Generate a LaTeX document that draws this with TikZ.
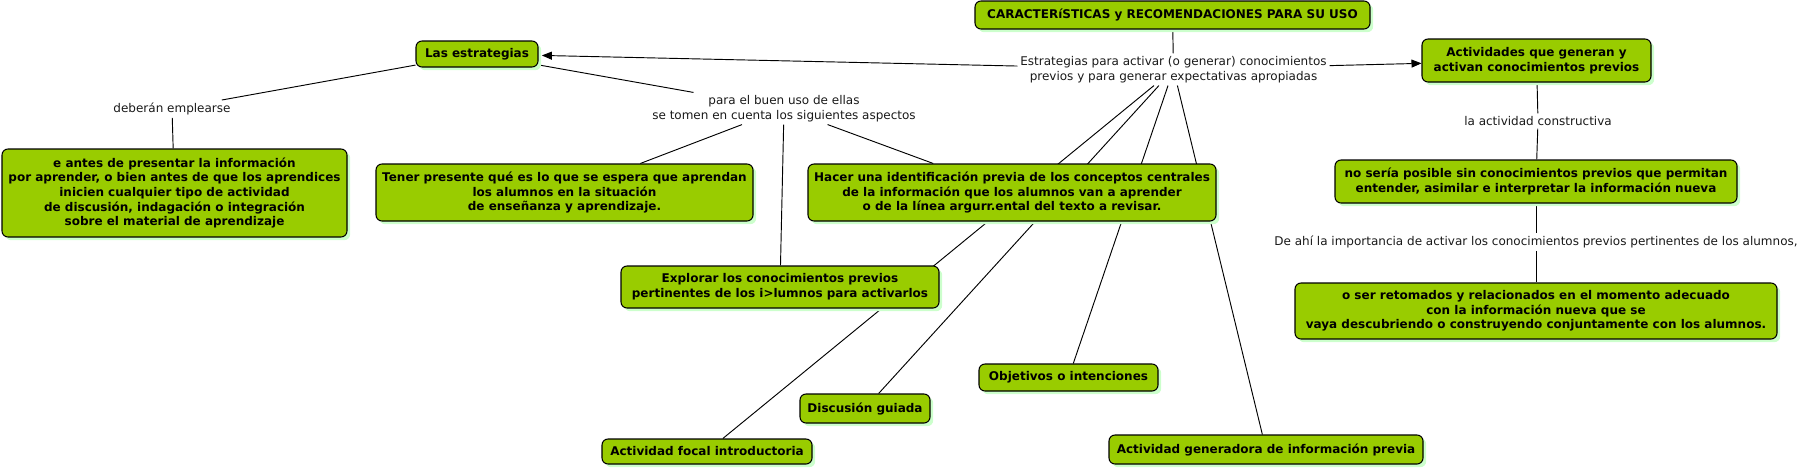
\documentclass[tikz,border=0pt]{standalone}
\usepackage{fontspec}
\setmainfont{DejaVu Sans}
\usetikzlibrary{shadows,arrows.meta}
\definecolor{boxgreen}{RGB}{153,204,0}
\definecolor{shadowgreen}{RGB}{204,255,204}
\pgfdeclarelayer{background}
\pgfsetlayers{background,main}
\begin{document}
\begin{tikzpicture}[x=0.75pt,y=-0.75pt,
  box/.style={draw=black, line width=0.8pt, fill=boxgreen, rounded corners=4.5pt,
    font=\bfseries\fontsize{9}{11}\selectfont, align=center, inner sep=0pt,
    drop shadow={shadow xshift=2.4pt, shadow yshift=-2.4pt, fill=shadowgreen, opacity=1}},
  lbl/.style={font=\fontsize{9}{11}\selectfont, align=center, inner sep=2pt, text=black!90},
  conn/.style={draw=black, line width=0.7pt},
  arr/.style={conn, -{Triangle[length=7.5pt,width=6pt]}}]
\useasboundingbox (0,0) rectangle (1805,471);
% boxes
\node[box, minimum width=91.5pt, minimum height=19.5pt] (las) at (477,54) {Las estrategias};
\node[box, minimum width=258.75pt, minimum height=66pt] (eantes) at (174.5,193) {e antes de presentar la información\\por aprender, o bien antes de que los aprendices\\inicien cualquier tipo de actividad\\de discusión, indagación o integración\\sobre el material de aprendizaje};
\node[box, minimum width=282.75pt, minimum height=42.75pt] (tener) at (564.5,192.5) {Tener presente qué es lo que se espera que aprendan\\los alumnos en la situación\\de enseñanza y aprendizaje.};
\node[box, minimum width=306pt, minimum height=42.75pt] (hacer) at (1012,192.5) {Hacer una identificación previa de los conceptos centrales\\de la información que los alumnos van a aprender\\o de la línea argurr.ental del texto a revisar.};
\node[box, minimum width=238.5pt, minimum height=31.5pt] (explorar) at (780,287) {Explorar los conocimientos previos\\pertinentes de los i>lumnos para activarlos};
\node[box, minimum width=157.5pt, minimum height=18.75pt] (focal) at (707,451.5) {Actividad focal introductoria};
\node[box, minimum width=97.5pt, minimum height=21.75pt] (discusion) at (865,408.5) {Discusión guiada};
\node[box, minimum width=134.25pt, minimum height=20.25pt] (objetivos) at (1068.5,377.5) {Objetivos o intenciones};
\node[box, minimum width=235.5pt, minimum height=21.75pt] (generadora) at (1266,449.5) {Actividad generadora de información previa};
\node[box, minimum width=296.25pt, minimum height=21pt] (carac) at (1172.5,15) {CARACTERíSTICAS y RECOMENDACIONES PARA SU USO};
\node[box, minimum width=171.75pt, minimum height=32.25pt] (activ) at (1536.5,60.5) {Actividades que generan y\\activan conocimientos previos};
\node[box, minimum width=301.5pt, minimum height=32.25pt] (noseria) at (1536,181.5) {no sería posible sin conocimientos previos que permitan\\entender, asimilar e interpretar la información nueva};
\node[box, minimum width=361.5pt, minimum height=42pt] (oser) at (1536,311) {o ser retomados y relacionados en el momento adecuado\\con la información nueva que se\\vaya descubriendo o construyendo conjuntamente con los alumnos.};
% labels
\node[lbl] (deberan) at (172,109) {deberán emplearse};
\node[lbl] (para) at (784,108.5) {para el buen uso de ellas\\se tomen en cuenta los siguientes aspectos};
\node[lbl] (estrat) at (1173.5,69.5) {Estrategias para activar (o generar) conocimientos\\previos y para generar expectativas apropiadas};
\node[lbl] (lact) at (1538,121) {la actividad constructiva};
\node[lbl] (deahi) at (1536,242) {De ahí la importancia de activar los conocimientos previos pertinentes de los alumnos,};
% connectors
\begin{pgfonlayer}{background}
\draw[conn] (las) -- (deberan);
\draw[conn] (deberan) -- (eantes);
\draw[conn] (las) -- (para);
\draw[conn] (para) -- (tener);
\draw[conn] (para) -- (explorar);
\draw[conn] (para) -- (hacer);
\draw[conn] (carac) -- (estrat);
\draw[arr, shorten >=2.5pt] (estrat) -- (las);
\draw[arr] (estrat) -- (activ);
\draw[conn] (estrat) -- (focal);
\draw[conn] (estrat) -- (discusion);
\draw[conn] (estrat) -- (objetivos);
\draw[conn] (estrat) -- (generadora);
\draw[conn] (activ) -- (lact);
\draw[conn] (lact) -- (noseria);
\draw[conn] (noseria) -- (deahi);
\draw[conn] (deahi) -- (oser);
\end{pgfonlayer}
\end{tikzpicture}
\end{document}
